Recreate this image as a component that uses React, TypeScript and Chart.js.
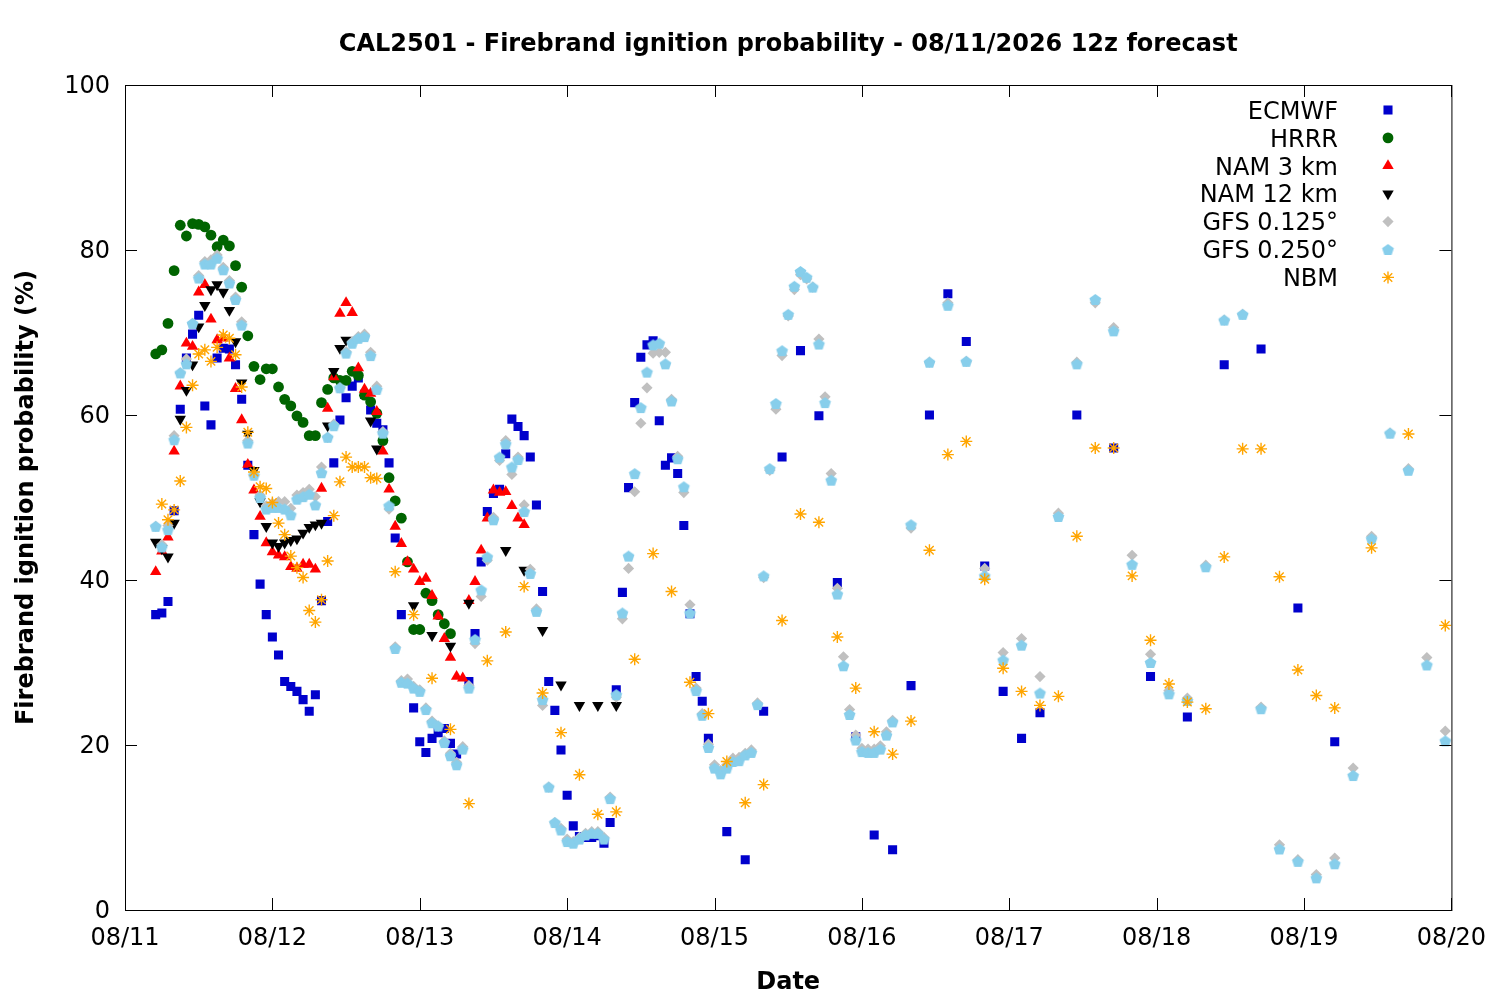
import { useEffect, useRef } from "react";
import { Chart, registerables } from "chart.js";

Chart.register(...registerables);

// hours are counted from 08/11 00:00 (local), one day = 24
const range = (from: number, to: number, step = 1) => {
  const out: number[] = [];
  for (let h = from; h <= to; h += step) out.push(h);
  return out;
};

const titleText = "CAL2501 - Firebrand ignition probability - 08/11/2026 12z forecast";
const dayLabels = ["08/11", "08/12", "08/13", "08/14", "08/15", "08/16", "08/17", "08/18", "08/19", "08/20"];
const yTicks = [0, 20, 40, 60, 80, 100];

const ecmwfHours = [
  ...range(5, 45),
  ...range(47, 54),
  ...range(56, 95),
  98, 101, 104, 107, 110, 113, 116, 119, 122, 125, 128, 131, 134, 137, 140, 143, 146, 149,
  155, 161, 167, 173, 179, 185, 191, 197,
];
const ecmwfValues = [
  35.8, 36.0, 37.4, 48.4, 60.7, 66.9, 69.8, 72.1, 61.1, 58.8, 66.9, 68.1, 68.0, 66.1, 61.9, 53.9, 45.5, 39.5, 35.8, 33.1,
  30.9, 27.7, 27.1, 26.5, 25.5, 24.1, 26.1, 37.5, 47.1, 54.2, 59.4, 62.1, 63.5, 64.5, 62.5, 60.6, 59.0, 58.2, 54.2, 45.1,
  35.8,
  24.5, 20.4, 19.1, 20.8, 21.5, 22.0, 20.2, 18.9,
  27.7, 33.5, 42.2, 48.3, 50.5, 51.0, 55.3, 59.5, 58.6, 57.5, 54.9, 49.1, 38.6, 27.7, 24.2, 19.4, 13.9, 10.2, 8.9, 8.8,
  8.8, 9.0, 8.1, 10.6, 26.7, 38.5, 51.2, 61.5, 67.0, 68.5, 69.0, 59.3, 53.9, 54.8, 52.9, 46.6, 35.9, 28.3, 25.3, 20.8,
  9.5, 6.1, 24.1, 54.9, 67.8, 59.9, 39.7, 21.0, 9.1, 7.3, 27.2, 60.0, 74.7, 68.9, 41.7, 26.5, 20.8, 23.9,
  60.0, 56.0, 28.3, 23.4, 66.1, 68.0, 36.6, 20.4,
];

const hrrrHours = range(5, 53);
const hrrrValues = [
  67.4, 67.9, 71.1, 77.5, 83.0, 81.7, 83.2, 83.1, 82.8, 81.8, 80.4, 81.2, 80.5, 78.1, 75.5, 69.6, 65.9, 64.3, 65.6, 65.6,
  63.4, 61.9, 61.1, 59.9, 59.1, 57.5, 57.5, 61.5, 63.1, 64.5, 64.2, 64.2, 65.3, 64.8, 62.4, 61.6, 60.2, 56.9, 52.4, 49.6,
  47.5, 42.2, 34.0, 34.0, 38.4, 37.5, 35.8, 34.7, 33.5,
];

const nam3Hours = range(5, 65);
const nam3Values = [
  41.0, 43.5, 45.2, 55.6, 63.5, 68.7, 68.3, 74.9, 75.8, 71.6, 69.1, 69.3, 66.9, 63.2, 59.4, 54.0, 50.9, 47.7, 44.5, 43.4,
  43.0, 42.8, 41.6, 41.4, 41.9, 41.9, 41.3, 51.1, 60.8, 64.6, 72.3, 73.6, 72.4, 65.7, 63.1, 62.6, 60.4, 55.6, 51.0, 46.5,
  44.4, 42.2, 41.3, 39.8, 40.2, 38.1, 35.6, 32.9, 30.6, 28.3, 28.1, 37.5, 39.8, 43.6, 47.5, 50.9, 50.6, 50.7, 49.0, 47.5,
  46.7,
];

const nam12Hours = [...range(5, 36), 40, 41, 47, 50, 53, 56, 62, 65, 68, 71, 74, 77, 80];
const nam12Values = [
  44.6, 43.8, 42.8, 46.9, 59.5, 63.0, 66.1, 70.7, 73.3, 75.2, 75.8, 74.9, 72.7, 68.9, 63.9, 57.7, 53.3, 49.5, 46.5, 44.5,
  44.1, 44.5, 44.8, 45.0, 45.7, 46.4, 46.7, 46.9, 58.7, 65.3, 68.1, 69.1,
  59.3, 55.9, 36.9, 33.3, 32.0, 37.2, 43.6, 41.2, 33.9, 27.3, 24.8, 24.8, 24.8,
];

const gfsHours = [...range(5, 125), ...range(128, 215, 3)];
const gfs125Values = [
  46.5, 44.3, 46.6, 57.5, 65.1, 66.8, 71.1, 76.9, 78.6, 78.8, 79.4, 77.9, 76.3, 74.3, 71.3, 56.9, 52.7, 50.3, 49.0, 49.3,
  49.5, 49.5, 48.7, 50.3, 50.6, 51.0, 50.1, 53.7, 57.3, 58.9, 63.3, 67.7, 68.9, 69.5, 69.8, 67.6, 63.5, 58.0, 48.6, 31.9,
  27.8, 28.0, 27.1, 26.7, 24.5, 22.9, 22.3, 20.5, 19.0, 17.9, 19.8, 27.2, 32.3, 38.0, 42.4, 47.6, 54.5, 56.9, 52.8, 54.9,
  49.1, 41.3, 36.5, 24.8, 14.9, 10.6, 9.9, 8.6, 8.3, 8.8, 9.3, 9.5, 9.5, 8.8, 13.7, 25.8, 35.3, 41.4, 50.7, 59.0,
  63.3, 67.5, 67.6, 67.6, 61.9, 55.0, 50.6, 37.0, 26.9, 23.8, 20.1, 17.6, 16.9, 17.6, 18.4, 18.5, 19.0, 19.4, 25.1, 40.3,
  53.3, 60.7, 67.2, 72.0, 75.2, 77.0, 76.5, 75.5, 69.2, 62.2, 52.9, 39.0, 30.7, 24.3, 21.2, 19.6, 19.5, 19.5, 19.9, 21.6,
  23.0,
  46.3, 66.4, 73.6, 66.5, 41.4, 31.2, 32.9, 28.3, 48.1, 66.4, 73.6, 70.6, 43.0, 31.0, 26.6, 25.7, 41.8, 71.5, 72.2, 24.6,
  7.9, 6.1, 4.3, 6.3, 17.2, 45.3, 57.8, 53.5, 30.6, 21.7,
];
const gfs250Values = [
  46.5, 44.0, 46.1, 57.0, 65.1, 66.2, 71.1, 76.6, 78.3, 78.3, 79.0, 77.6, 76.0, 74.0, 70.9, 56.6, 52.7, 50.0, 48.6, 48.8,
  48.8, 48.6, 47.9, 49.8, 50.1, 50.4, 49.1, 53.0, 57.3, 58.7, 63.3, 67.5, 68.7, 69.3, 69.5, 67.2, 63.1, 57.8, 49.0, 31.7,
  27.6, 27.5, 26.9, 26.5, 24.3, 22.7, 22.3, 20.3, 18.7, 17.6, 19.5, 26.9, 32.8, 38.8, 42.8, 47.3, 54.9, 56.5, 53.7, 54.6,
  48.3, 40.8, 36.2, 25.5, 14.9, 10.6, 9.7, 8.3, 8.1, 8.6, 9.1, 9.3, 9.3, 8.6, 13.5, 26.1, 36.0, 42.9, 52.9, 60.9,
  65.2, 68.5, 68.7, 66.2, 61.7, 54.7, 51.3, 36.0, 26.6, 23.6, 19.7, 17.2, 16.5, 17.2, 18.0, 18.1, 18.8, 19.1, 24.9, 40.5,
  53.5, 61.4, 67.8, 72.2, 75.6, 77.4, 76.7, 75.5, 68.6, 61.5, 52.1, 38.3, 29.6, 23.7, 20.6, 19.2, 19.1, 19.1, 19.5, 21.2,
  22.8,
  46.7, 66.4, 73.3, 66.5, 40.5, 30.3, 32.1, 26.3, 47.7, 66.2, 74.0, 70.2, 41.9, 30.0, 26.2, 25.4, 41.6, 71.5, 72.2, 24.4,
  7.4, 5.9, 3.9, 5.6, 16.3, 45.0, 57.8, 53.3, 29.7, 20.5,
];

const nbmHours = [...range(6, 41), ...range(44, 197, 3), 203, 209, 215];
const nbmValues = [
  49.2, 47.3, 48.5, 52.0, 58.5, 63.6, 67.4, 67.9, 66.5, 68.2, 69.7, 69.3, 67.3, 63.4, 57.9, 53.1, 51.3, 51.1, 49.4, 46.9,
  45.5, 42.9, 41.5, 40.3, 36.3, 34.9, 37.6, 42.3, 47.8, 51.9, 54.9, 53.7, 53.7, 53.7, 52.4, 52.3,
  41.0, 35.8, 28.1, 21.9, 12.9, 30.2, 33.7, 39.2, 26.3, 21.5, 16.4, 11.6, 11.9, 30.4, 43.2, 38.6, 27.6, 23.8, 18.0, 13.0,
  15.2, 35.1, 48.0, 47.0, 33.1, 26.9, 21.6, 18.9, 22.9, 43.6, 55.2, 56.8, 40.1, 29.3, 26.5, 24.8, 25.9, 45.3, 56.0, 56.0,
  40.5, 32.7, 27.4, 25.2, 24.4, 42.8, 55.9, 55.9, 40.4, 29.1, 26.0, 24.5,
  43.9, 57.7, 34.5,
];

const toPoints = (hours: number[], values: number[]) => hours.map((h, i) => ({ x: h, y: values[i] }));

const FONT = '"DejaVu Sans", "Liberation Sans", sans-serif';

function makePentagon(color: string, r: number) {
  const size = Math.ceil(r * 2 + 2);
  const c = document.createElement("canvas");
  c.width = size;
  c.height = size;
  const g = c.getContext("2d")!;
  g.fillStyle = color;
  g.beginPath();
  for (let k = 0; k < 5; k++) {
    const a = -Math.PI / 2 + (k * 2 * Math.PI) / 5;
    const px = size / 2 + r * Math.cos(a);
    const py = size / 2 + 0.6 + r * Math.sin(a);
    if (k === 0) g.moveTo(px, py);
    else g.lineTo(px, py);
  }
  g.closePath();
  g.fill();
  return c;
}

function drawMarker(ctx: CanvasRenderingContext2D, ds: any, x: number, y: number) {
  const r = ds.pointRadius;
  const style = ds.pointStyle;
  ctx.save();
  ctx.fillStyle = ds.backgroundColor;
  ctx.strokeStyle = ds.borderColor;
  ctx.lineWidth = ds.borderWidth || 1;
  ctx.beginPath();
  if (typeof style !== "string") {
    ctx.drawImage(style, x - style.width / 2, y - style.height / 2);
  } else if (style === "rect") {
    const s = Math.SQRT1_2 * r;
    ctx.rect(x - s, y - s, 2 * s, 2 * s);
    ctx.fill();
  } else if (style === "circle") {
    ctx.arc(x, y, r, 0, Math.PI * 2);
    ctx.fill();
  } else if (style === "triangle") {
    const rot = ((ds.pointRotation || 0) * Math.PI) / 180;
    for (let k = 0; k < 3; k++) {
      const a = rot + (k * 2 * Math.PI) / 3;
      const px = x + Math.sin(a) * r;
      const py = y - Math.cos(a) * r;
      if (k === 0) ctx.moveTo(px, py);
      else ctx.lineTo(px, py);
    }
    ctx.closePath();
    ctx.fill();
  } else if (style === "rectRot") {
    ctx.moveTo(x, y - r);
    ctx.lineTo(x + r, y);
    ctx.lineTo(x, y + r);
    ctx.lineTo(x - r, y);
    ctx.closePath();
    ctx.fill();
  } else if (style === "star") {
    for (let k = 0; k < 4; k++) {
      const a = (k * Math.PI) / 4;
      ctx.moveTo(x - Math.cos(a) * r, y - Math.sin(a) * r);
      ctx.lineTo(x + Math.cos(a) * r, y + Math.sin(a) * r);
    }
    ctx.stroke();
  }
  ctx.restore();
}

const gnuplotFrame = {
  id: "gnuplotFrame",
  afterDraw(chart: any) {
    const { ctx, chartArea: a, scales } = chart;
    ctx.save();
    ctx.strokeStyle = "#000";
    ctx.lineWidth = 1;
    ctx.strokeRect(a.left + 0.5, a.top + 0.5, a.right - a.left, a.bottom - a.top);
    ctx.beginPath();
    dayLabels.forEach((_, i) => {
      const px = Math.round(scales.x.getPixelForValue(i * 24)) + 0.5;
      ctx.moveTo(px, a.bottom);
      ctx.lineTo(px, a.bottom - 12);
      ctx.moveTo(px, a.top);
      ctx.lineTo(px, a.top + 12);
    });
    yTicks.forEach((v) => {
      const py = Math.round(scales.y.getPixelForValue(v)) + 0.5;
      ctx.moveTo(a.left, py);
      ctx.lineTo(a.left + 12, py);
      ctx.moveTo(a.right, py);
      ctx.lineTo(a.right - 12, py);
    });
    ctx.stroke();

    ctx.fillStyle = "#000";
    ctx.font = `bold 24px ${FONT}`;
    ctx.textAlign = "center";
    ctx.textBaseline = "alphabetic";
    ctx.fillText(titleText, (a.left + a.right) / 2, 51);

    ctx.font = `24px ${FONT}`;
    ctx.textAlign = "right";
    chart.data.datasets.forEach((ds: any, i: number) => {
      const y = 110 + i * 27.9;
      ctx.fillStyle = "#000";
      ctx.fillText(ds.label, 1338, y + 8.7);
      drawMarker(ctx, ds, 1388, y);
    });
    ctx.restore();
  },
};

export default function App() {
  const canvasRef = useRef<HTMLCanvasElement | null>(null);

  useEffect(() => {
    document.body.style.margin = "0";
    if (!canvasRef.current) return;
    const pentagon = makePentagon("#87ceeb", 6.2);
    const series = [
      { label: "ECMWF", data: toPoints(ecmwfHours, ecmwfValues), pointStyle: "rect", pointRadius: 6.4, color: "#0000cc" },
      { label: "HRRR", data: toPoints(hrrrHours, hrrrValues), pointStyle: "circle", pointRadius: 5.4, color: "#006400" },
      { label: "NAM 3 km", data: toPoints(nam3Hours, nam3Values), pointStyle: "triangle", pointRadius: 6.6, color: "#ff0000" },
      { label: "NAM 12 km", data: toPoints(nam12Hours, nam12Values), pointStyle: "triangle", pointRadius: 6.6, color: "#000000", rotation: 180 },
      { label: "GFS 0.125°", data: toPoints(gfsHours, gfs125Values), pointStyle: "rectRot", pointRadius: 5.6, color: "#c0c0c0" },
      { label: "GFS 0.250°", data: toPoints(gfsHours, gfs250Values), pointStyle: pentagon, pointRadius: 6.2, color: "#87ceeb" },
      { label: "NBM", data: toPoints(nbmHours, nbmValues), pointStyle: "star", pointRadius: 6, color: "#ffa500" },
    ];

    const chart = new Chart(canvasRef.current, {
      type: "scatter",
      data: {
        datasets: series.map((s, i) => ({
          label: s.label,
          data: s.data,
          pointStyle: s.pointStyle as any,
          pointRadius: s.pointRadius,
          pointRotation: s.rotation || 0,
          backgroundColor: s.color,
          borderColor: s.color,
          borderWidth: s.pointStyle === "star" ? 1.4 : 0,
          order: series.length - i,
        })),
      },
      options: {
        animation: false,
        responsive: true,
        maintainAspectRatio: false,
        events: [],
        layout: { padding: { top: 85, right: 46, left: 0, bottom: 0 } },
        plugins: {
          legend: { display: false },
          tooltip: { enabled: false },
        },
        scales: {
          x: {
            type: "linear",
            min: 0,
            max: 216,
            afterFit: (s: any) => {
              s.height = 90;
            },
            grid: { display: false, drawTicks: false },
            border: { display: false },
            ticks: {
              stepSize: 24,
              autoSkip: false,
              maxRotation: 0,
              padding: 14,
              color: "#000",
              font: { family: FONT, size: 24 },
              callback: (v: any) => dayLabels[Math.round(Number(v) / 24)] ?? "",
            },
            title: {
              display: true,
              text: "Date",
              color: "#000",
              font: { family: FONT, size: 24, weight: "bold" },
              padding: { top: 0, bottom: 2.5 },
            },
          },
          y: {
            min: 0,
            max: 100,
            afterFit: (s: any) => {
              s.width = 125;
            },
            grid: { display: false, drawTicks: false },
            border: { display: false },
            ticks: {
              stepSize: 20,
              padding: 15,
              labelOffset: 2,
              color: "#000",
              font: { family: FONT, size: 24 },
            },
            title: {
              display: true,
              text: "Firebrand ignition probability (%)",
              color: "#000",
              font: { family: FONT, size: 24, weight: "bold" },
              padding: { top: 12.5, bottom: 0 },
            },
          },
        },
      },
      plugins: [gnuplotFrame],
    });

    return () => {
      chart.destroy();
    };
  }, []);

  return (
    <div style={{ width: 1500, height: 1000, background: "#fff" }}>
      <canvas ref={canvasRef} />
    </div>
  );
}
